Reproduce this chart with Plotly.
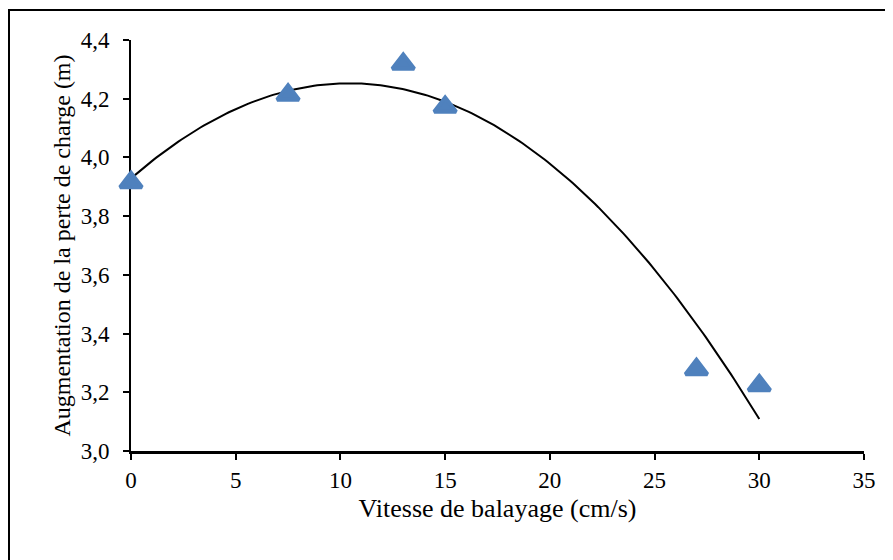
import numpy as np
import plotly.graph_objects as go

# Data
vitesse = [0, 7.5, 13, 15, 27, 30]
perte = [3.915, 4.213, 4.318, 4.172, 3.278, 3.223]

x_title = "Vitesse de balayage (cm/s)"
y_title = "Augmentation de la perte de charge (m)"

# Polynomial (order 2) trendline, as in the original spreadsheet chart
coef = np.polyfit(vitesse, perte, 2)
xs = np.linspace(min(vitesse), max(vitesse), 200)
ys = np.polyval(coef, xs)

FONT = "Liberation Serif"

fig = go.Figure()
fig.add_trace(go.Scatter(
    x=xs, y=ys, mode="lines",
    line=dict(color="black", width=2),
    hoverinfo="skip", showlegend=False,
))
fig.add_trace(go.Scatter(
    x=vitesse, y=perte, mode="markers",
    marker=dict(symbol="triangle-up", size=19, color="#4F81BD",
                line=dict(color="#4F81BD", width=4)),
    cliponaxis=False, showlegend=False,
))

fig.update_layout(
    width=885, height=552, autosize=False,
    margin=dict(l=123, r=29, t=32, b=109),
    paper_bgcolor="white", plot_bgcolor="white",
    separators=", ",
    font=dict(family=FONT, color="black", size=20),
    xaxis=dict(
        range=[0, 35], dtick=5, tick0=0,
        showgrid=False, zeroline=False,
        showline=True, linecolor="black", linewidth=3,
        ticks="outside", ticklen=6, tickwidth=2, tickcolor="black",
        tickfont=dict(family=FONT, size=23, color="black"),
        title=dict(text=x_title, font=dict(family=FONT, size=26), standoff=8),
        layer="below traces",
    ),
    yaxis=dict(
        range=[3.0, 4.4], dtick=0.2, tick0=3.0, tickformat=".1f",
        showgrid=False, zeroline=False,
        showline=True, linecolor="black", linewidth=2,
        ticks="outside", ticklen=6, tickwidth=2, tickcolor="black",
        tickfont=dict(family=FONT, size=23, color="black"),
        ticklabelstandoff=9,
        title=dict(text=y_title, font=dict(family=FONT, size=24), standoff=3),
        layer="below traces",
    ),
    shapes=[dict(
        type="rect", xref="paper", yref="paper",
        x0=-122 / 733, x1=2.0, y0=-1.0, y1=441 / 411,
        line=dict(color="black", width=2), fillcolor="rgba(0,0,0,0)",
    )],
)

fig.write_html("out.html")
